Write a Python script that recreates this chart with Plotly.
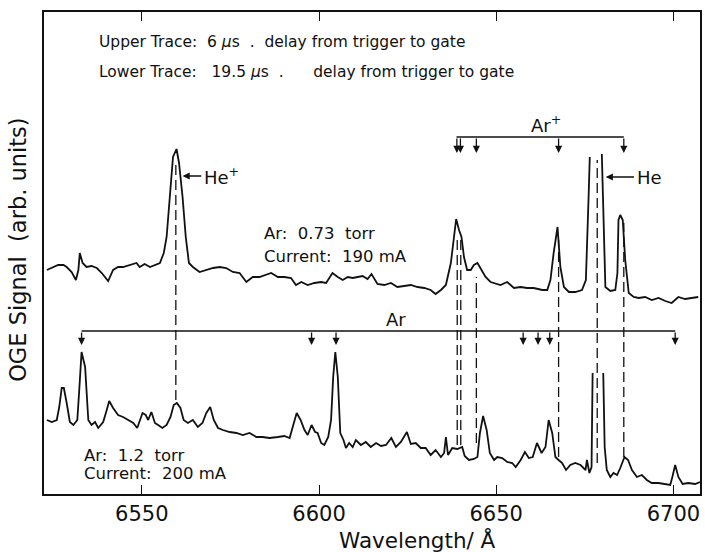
import plotly.graph_objects as go

# ---------------- data (wavelength in Å, signal in arbitrary units) ----------------
upper_wl = [6523.2, 6525.0, 6526.4, 6527.9, 6528.8, 6530.2, 6531.4, 6532.1, 6532.5, 6533.3,
            6534.4, 6535.8, 6537.3, 6538.7, 6540.5, 6541.9, 6543.3, 6544.7, 6546.6, 6548.5,
            6549.4, 6550.8, 6552.3, 6553.7, 6555.1, 6556.2, 6557.0, 6557.9, 6558.8, 6559.8,
            6560.5, 6561.5, 6562.4, 6563.3, 6564.4, 6566.3, 6568.2, 6570.1, 6572.0, 6573.8,
            6575.7, 6577.6, 6579.5, 6581.3, 6583.2, 6585.1, 6586.5, 6588.4, 6590.2, 6592.1,
            6593.5, 6595.0, 6596.8, 6598.7, 6600.6, 6602.0, 6603.8, 6605.3, 6606.7, 6608.1,
            6609.5, 6610.9, 6612.3, 6613.7, 6614.8, 6616.5, 6618.4, 6620.3, 6622.1, 6624.0,
            6625.9, 6627.8, 6629.7, 6631.5, 6632.9, 6634.4, 6635.8, 6637.2, 6638.1, 6638.7,
            6639.5, 6640.2, 6640.9, 6641.8, 6642.8, 6643.7, 6644.7, 6645.6, 6647.0, 6648.4,
            6649.4, 6651.2, 6653.1, 6655.0, 6656.9, 6658.7, 6660.6, 6663.0, 6664.4, 6665.3,
            6666.2, 6667.3, 6668.1, 6669.1, 6670.5, 6672.3, 6674.2, 6675.3, 6676.1, 6676.4,
            None,
            6679.8, 6680.3, 6680.8, 6682.2, 6683.6, 6684.2, 6684.5, 6685.0, 6685.7, 6686.4,
            6687.4, 6688.8, 6690.2, 6692.0, 6693.9, 6695.8, 6697.7, 6699.5, 6701.4, 6703.3,
            6705.2, 6707.0]
upper_sig = [232, 235, 237, 237, 235, 230, 222, 232, 249, 239,
             235, 236, 234, 229, 221, 232, 235, 235, 237, 239,
             235, 238, 235, 237, 239, 249, 265, 305, 345, 353,
             339, 305, 265, 239, 235, 230, 232, 234, 235, 234,
             230, 229, 220, 225, 225, 227, 229, 225, 225, 224,
             217, 220, 217, 219, 220, 219, 229, 225, 222, 225,
             224, 225, 226, 223, 228, 218, 217, 219, 215, 216,
             217, 215, 214, 212, 208, 212, 217, 239, 269, 283,
             272, 265, 245, 232, 232, 237, 239, 234, 225, 220,
             219, 217, 220, 214, 215, 214, 214, 212, 212, 222,
             249, 275, 235, 215, 210, 210, 212, 222, 309, 345,
             None,
             348, 275, 215, 211, 212, 229, 282, 287, 282, 242,
             209, 205, 204, 205, 202, 204, 201, 199, 205, 203,
             204, 205]

lower_wl = [6523.2, 6524.6, 6526.0, 6526.7, 6527.4, 6528.0, 6528.8, 6529.7, 6530.7, 6531.8,
            6532.4, 6533.0, 6534.0, 6534.4, 6534.9, 6535.8, 6536.8, 6537.7, 6539.1, 6540.1,
            6540.8, 6541.9, 6543.3, 6544.7, 6546.1, 6547.6, 6548.7, 6549.4, 6550.2, 6551.1,
            6551.8, 6552.7, 6553.7, 6554.6, 6555.8, 6557.0, 6558.1, 6559.0, 6559.9, 6560.9,
            6561.8, 6563.0, 6564.4, 6565.8, 6567.1, 6568.2, 6569.3, 6570.3, 6571.5, 6572.9,
            6574.8, 6576.7, 6578.5, 6580.4, 6582.3, 6584.1, 6586.0, 6588.4, 6590.2, 6591.7,
            6592.6, 6593.7, 6594.8, 6595.9, 6596.8, 6597.9, 6598.9, 6599.6, 6600.6, 6601.5,
            6602.6, 6603.4, 6604.0, 6604.6, 6605.3, 6606.0, 6606.9, 6607.6, 6608.5, 6609.5,
            6610.4, 6611.8, 6613.2, 6614.6, 6616.1, 6617.5, 6618.9, 6620.4, 6621.7, 6623.1,
            6624.8, 6625.9, 6627.3, 6628.7, 6630.1, 6631.5, 6632.9, 6634.4, 6635.3, 6635.8,
            6636.4, 6637.6, 6639.0, 6640.4, 6641.1, 6642.3, 6643.7, 6644.7, 6645.4, 6646.3,
            6647.3, 6648.2, 6649.4, 6650.3, 6651.7, 6653.1, 6654.5, 6655.5, 6656.9, 6658.1,
            6659.2, 6660.3, 6661.5, 6662.8, 6663.9, 6664.8, 6665.8, 6666.7, 6667.6, 6668.6,
            6669.7, 6670.9, 6672.3, 6673.8, 6675.2, 6675.6, 6676.3, 6676.9, 6677.2,
            None,
            6680.2, 6680.6, 6681.2, 6682.2, 6683.1, 6684.1, 6685.0, 6686.2, 6687.2, 6688.3,
            6689.7, 6691.1, 6692.5, 6693.9, 6695.8, 6697.7, 6699.1, 6699.7, 6700.5, 6701.4,
            6702.6, 6704.2, 6706.1, 6707.5]
lower_sig = [82, 80, 82, 95, 114, 114, 99, 80, 77, 82,
             115, 150, 135, 105, 82, 77, 80, 74, 80, 92,
             101, 94, 87, 85, 82, 79, 74, 82, 89, 87,
             82, 90, 79, 77, 74, 77, 85, 97, 99, 94,
             82, 79, 82, 75, 79, 89, 95, 82, 74, 72,
             70, 69, 67, 69, 65, 65, 64, 65, 66, 64,
             75, 89, 82, 72, 67, 77, 70, 69, 59, 57,
             65, 82, 125, 150, 125, 69, 62, 54, 59, 55,
             62, 57, 60, 55, 59, 56, 57, 64, 55, 60,
             70, 58, 59, 54, 54, 47, 52, 45, 49, 65,
             47, 54, 53, 55, 46, 42, 43, 45, 69, 86,
             72, 49, 42, 45, 44, 40, 39, 35, 42, 50,
             44, 45, 59, 49, 55, 82, 69, 45, 42, 39,
             32, 37, 39, 37, 32, 42, 29, 35, 129,
             None,
             129, 55, 32, 25, 29, 27, 34, 45, 42, 32,
             25, 27, 22, 19, 19, 18, 17, 25, 37, 25,
             18, 19, 18, 20]

# dashed connector lines: wavelength, top signal, bottom signal
dash_wl = [6559.6, 6639.0, 6640.0, 6644.4, 6667.6, 6678.5, 6686.0]
dash_top = [337, 262, 265, 225, 262, 342, 279]
dash_bot = [102, 57, 57, 59, 45, 39, 45]

# Ar+ line markers (upper bracket)
arp_wl = [6638.9, 6639.9, 6644.4, 6667.6, 6686.0]
arp_bracket = [6638.8, 6686.0]
arp_level, arp_tip = 365, 349

# Ar line markers (lower bracket)
ar_wl = [6533.0, 6597.9, 6604.8, 6657.6, 6661.8, 6665.1, 6700.5]
ar_bracket = [6533.0, 6700.5]
ar_level, ar_tip = 171, 157

x_ticks = [6550, 6600, 6650, 6700]
x_range = [6522.4, 6707.5]
y_range = [8, 490]

FONT = "DejaVu Sans, Verdana, sans-serif"
BLACK = "#111111"

fig = go.Figure()
fig.add_trace(go.Scatter(x=upper_wl, y=upper_sig, mode="lines",
                         line=dict(color=BLACK, width=1.8), connectgaps=False,
                         showlegend=False, hoverinfo="skip"))
fig.add_trace(go.Scatter(x=lower_wl, y=lower_sig, mode="lines",
                         line=dict(color=BLACK, width=1.8), connectgaps=False,
                         showlegend=False, hoverinfo="skip"))

shapes = []
for w, t, b in zip(dash_wl, dash_top, dash_bot):
    shapes.append(dict(type="line", xref="x", yref="y", x0=w, x1=w, y0=b, y1=t,
                       line=dict(color=BLACK, width=1.3, dash="10px,5px")))
shapes.append(dict(type="line", xref="x", yref="y", x0=arp_bracket[0], x1=arp_bracket[1],
                   y0=arp_level, y1=arp_level, line=dict(color=BLACK, width=1.6)))
shapes.append(dict(type="line", xref="x", yref="y", x0=ar_bracket[0], x1=ar_bracket[1],
                   y0=ar_level, y1=ar_level, line=dict(color=BLACK, width=1.6)))

annotations = []
def down_arrow(w, top, tip):
    annotations.append(dict(x=w, y=tip, ax=w, ay=top, xref="x", yref="y", axref="x", ayref="y",
                            text="", showarrow=True, arrowhead=2, arrowsize=1.1,
                            arrowwidth=1.3, arrowcolor=BLACK))
for w in arp_wl:
    down_arrow(w, arp_level, arp_tip)
for w in ar_wl:
    down_arrow(w, ar_level, ar_tip)

# He+ and He pointers
for tip_x, tail_x, yv, label in [(6561.5, 6567.2, 326, "He<sup>+</sup>"), (6680.9, 6689.3, 325, "He")]:
    annotations.append(dict(x=tip_x, y=yv, ax=tail_x, ay=yv, xref="x", yref="y", axref="x", ayref="y",
                            text="", showarrow=True, arrowhead=2, arrowsize=1.1,
                            arrowwidth=1.3, arrowcolor=BLACK))
    annotations.append(dict(x=tail_x, y=yv, xref="x", yref="y", text=label, showarrow=False,
                            xanchor="left", yanchor="middle", xshift=-1,
                            font=dict(size=18, color=BLACK, family=FONT)))

def label(x, y, text, size=16, xanchor="left", yanchor="middle"):
    annotations.append(dict(x=x, y=y, xref="x", yref="y", text=text, showarrow=False,
                            xanchor=xanchor, yanchor=yanchor,
                            font=dict(size=size, color=BLACK, family=FONT)))

label(6537.3, 460, "Upper Trace:  6 <i>μ</i>s  .  delay from trigger to gate", 15.5)
label(6537.3, 430, "Lower Trace:   19.5 <i>μ</i>s  .      delay from trigger to gate", 15.5)
label(6583.8, 269, "Ar:  0.73  torr", 16.5)
label(6583.8, 246, "Current:  190 mA", 16.5)
label(6533.0, 47, "Ar:  1.2  torr", 16.5)
label(6533.0, 29, "Current:  200 mA", 16.5)
label(6664.0, arp_level - 1, "Ar<sup>+</sup>", 18, xanchor="center", yanchor="bottom")
label(6621.8, ar_level - 1, "Ar", 18, xanchor="center", yanchor="bottom")

annotations.append(dict(x=-0.04, y=0.506, xref="paper", yref="paper", text="OGE Signal  (arb. units)",
                        textangle=-90, showarrow=False, xanchor="center", yanchor="middle",
                        font=dict(size=22.5, color=BLACK, family=FONT)))
annotations.append(dict(x=0.57, y=-0.095, xref="paper", yref="paper", text="Wavelength/ Å",
                        showarrow=False, xanchor="center", yanchor="middle",
                        font=dict(size=21.5, color=BLACK, family=FONT)))

fig.update_layout(
    width=705, height=552,
    margin=dict(l=44, r=3, t=12, b=58),
    paper_bgcolor="white", plot_bgcolor="white",
    shapes=shapes, annotations=annotations,
    xaxis=dict(range=x_range, tickvals=x_ticks, ticktext=[str(t) for t in x_ticks],
               ticks="inside", ticklen=9, tickwidth=1.3, tickcolor=BLACK,
               showline=True, linecolor=BLACK, linewidth=2, mirror="ticks",
               showgrid=False, zeroline=False,
               tickfont=dict(size=21, color=BLACK, family=FONT)),
    yaxis=dict(range=y_range, showticklabels=False, ticks="",
               showline=True, linecolor=BLACK, linewidth=2, mirror=True,
               showgrid=False, zeroline=False),
)

fig.write_html("out.html")
